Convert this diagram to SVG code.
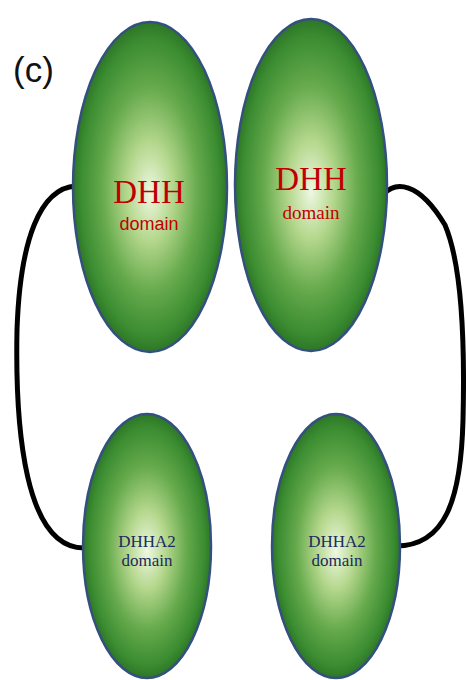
<svg xmlns="http://www.w3.org/2000/svg" width="466" height="680" viewBox="0 0 466 680">
<defs>
<radialGradient id="g" cx="0.5" cy="0.5" r="0.5" fx="0.5" fy="0.52">
<stop offset="0" stop-color="#eef8e2"/>
<stop offset="0.3" stop-color="#b4d78c"/>
<stop offset="0.62" stop-color="#66aa4c"/>
<stop offset="0.9" stop-color="#3b8c31"/>
<stop offset="1" stop-color="#2d7626"/>
</radialGradient>
</defs>
<style>
.dom{fill:url(#g);stroke:#34507e;stroke-width:2.5}
.link{fill:none;stroke:#000;stroke-width:5;stroke-linecap:round}
.dhh{font-family:"Liberation Serif",serif;fill:#c00000;text-anchor:middle;font-size:33px}
.red-sans{font-family:"Liberation Sans",sans-serif;fill:#c00000;text-anchor:middle;font-size:18px}
.red-serif{font-family:"Liberation Serif",serif;fill:#c00000;text-anchor:middle;font-size:19px}
.navy{font-family:"Liberation Serif",serif;fill:#1c2a5c;text-anchor:middle;font-size:17px}
</style>
<rect width="466" height="680" fill="#fff"/>
<text x="13" y="82" font-family="Liberation Sans, sans-serif" font-size="35" fill="#111">(c)</text>
<g id="connectors">
<path class="link" d="M76,186 C40,188 20,240 17,330 C15,430 25,548 84,548"/>
<path class="link" d="M384,194 C395,182 418,180 445,225 C462,265 465,340 463,420 C461,500 445,546 396,546"/>
</g>
<g id="dhh-left">
<ellipse class="dom" cx="150" cy="187" rx="77" ry="165"/>
<text class="dhh" x="149" y="203">DHH</text>
<text class="red-sans" x="149" y="230">domain</text>
</g>
<g id="dhh-right">
<ellipse class="dom" cx="311" cy="185" rx="76" ry="166"/>
<text class="dhh" x="311" y="190">DHH</text>
<text class="red-serif" x="311" y="219">domain</text>
</g>
<g id="dhha2-left">
<ellipse class="dom" cx="147" cy="546" rx="64" ry="132"/>
<text class="navy" x="147" y="547">DHHA2</text>
<text class="navy" x="147" y="566">domain</text>
</g>
<g id="dhha2-right">
<ellipse class="dom" cx="336" cy="546" rx="64" ry="132"/>
<text class="navy" x="337" y="547">DHHA2</text>
<text class="navy" x="337" y="566">domain</text>
</g>
</svg>
